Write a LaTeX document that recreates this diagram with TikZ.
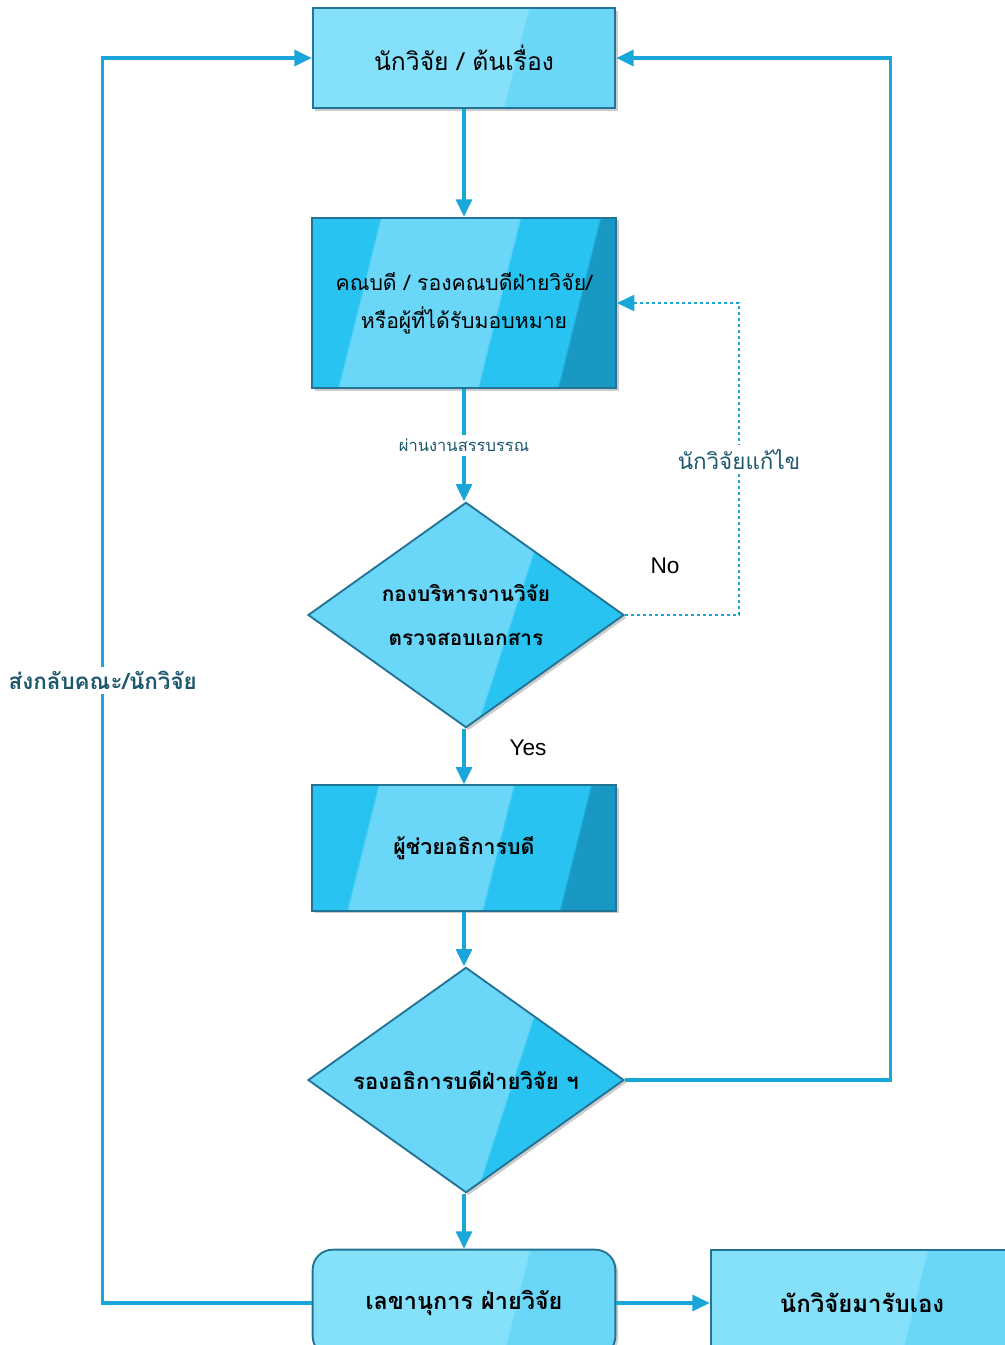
\documentclass[tikz,border=0pt]{standalone}
\usepackage{fontspec}
\setmainfont{Liberation Sans}
\newfontfamily\thaifont[Script=Thai]{Loma}
\usetikzlibrary{shapes.geometric,arrows.meta,shadows}

\definecolor{flowblue}{RGB}{27,166,218}
\definecolor{notecolor}{RGB}{30,88,110}
\definecolor{glassedge}{RGB}{34,115,148}
\definecolor{glasspale}{RGB}{133,224,250}
\definecolor{glasslight}{RGB}{106,215,249}
\definecolor{glassmid}{RGB}{40,195,241}
\definecolor{glassdark}{RGB}{26,152,196}

\pgfdeclarehorizontalshading{deepglass}{100bp}{color(0bp)=(glassmid); color(31.5bp)=(glassmid); color(31.8bp)=(glasslight); color(56bp)=(glasslight); color(56.3bp)=(glassmid); color(70bp)=(glassmid); color(70.3bp)=(glassdark); color(100bp)=(glassdark)}
\pgfdeclarehorizontalshading{paleglass}{100bp}{color(0bp)=(glasspale); color(59.5bp)=(glasspale); color(59.8bp)=(glasslight); color(100bp)=(glasslight)}
\pgfdeclarehorizontalshading{diamondglass}{100bp}{color(0bp)=(glasslight); color(57.5bp)=(glasslight); color(57.8bp)=(glassmid); color(100bp)=(glassmid)}

\tikzset{
  glass/.style={draw=glassedge, line width=1.4pt, align=center,
    drop shadow={shadow xshift=2pt, shadow yshift=-2pt, opacity=0.4}},
  palebox/.style={glass, rectangle, shading=paleglass, shading angle=-14,
    minimum width=227pt, font=\thaifont\fontsize{18.5}{30}\selectfont},
  deepbox/.style={glass, rectangle, shading=deepglass, shading angle=-14,
    minimum width=228pt, font=\thaifont\fontsize{15.9}{28.5}\selectfont},
  decision/.style={glass, diamond, aspect=1.4, inner sep=0pt,
    shading=diamondglass, shading angle=-18,
    minimum width=237pt, minimum height=169pt,
    font=\thaifont\bfseries\fontsize{15.6}{33}\selectfont},
  flow/.style={draw=flowblue, line width=2.3pt,
    -{Triangle[width=12pt,length=13pt]}},
  fixloop/.style={draw=flowblue, line width=1.9pt, dash pattern=on 2.5pt off 2pt,
    -{Triangle[width=12pt,length=13pt]}},
  note/.style={fill=white, text=notecolor, inner sep=3pt},
}

\begin{document}
\begin{tikzpicture}[x=0.75pt, y=-0.75pt]
    \useasboundingbox (0,0) rectangle (1005,1345);

    \node[palebox, minimum height=75pt] at (464,58)   (researcher) {นักวิจัย / ต้นเรื่อง};
    \node[deepbox, minimum height=128pt] at (464,303) (dean) {คณบดี / รองคณบดีฝ่ายวิจัย/\\หรือผู้ที่ได้รับมอบหมาย};
    \node[decision] at (466,615)                      (office) {กองบริหารงานวิจัย\\ตรวจสอบเอกสาร};
    \node[deepbox, minimum height=94pt,
          font=\thaifont\bfseries\fontsize{16}{30}\selectfont] at (464,848) (assistant) {ผู้ช่วยอธิการบดี};
    \node[decision, font=\thaifont\bfseries\fontsize{16.6}{33}\selectfont] at (466,1080) (vice) {รองอธิการบดีฝ่ายวิจัย ฯ};
    \node[palebox, rounded corners=15pt, minimum height=80pt,
          font=\thaifont\bfseries\fontsize{17.6}{30}\selectfont] at (464,1303) (secretary) {เลขานุการ ฝ่ายวิจัย};
    \node[palebox, minimum height=80pt,
          font=\thaifont\bfseries\fontsize{18}{30}\selectfont] at (862,1303) (pickup) {นักวิจัยมารับเอง};
    \node[font=\fontsize{17}{20}\selectfont] at (665,566) (no)  {No};
    \node[font=\fontsize{17}{20}\selectfont] at (528,748) (yes) {Yes};

    \draw[flow] (researcher) -- (dean);
    \draw[flow] (dean) -- node[note, font=\thaifont\fontsize{12.4}{14}\selectfont] {ผ่านงานสรรบรรณ} (dean |- office.north);
    \draw[fixloop] (office.east) -- ++(114,0) |- node[pos=0.25, note, font=\thaifont\fontsize{16.8}{18}\selectfont] {นักวิจัยแก้ไข} (dean.east);
    \draw[flow] (office.south -| assistant) -- (assistant);
    \draw[flow] (assistant) -- (assistant |- vice.north);
    \draw[flow] (vice.east) -- ++(266,0) |- (researcher.east);
    \draw[flow] (vice.south -| secretary) -- (secretary);
    \draw[flow] (secretary.west) -- ++(-209,0) |- node[pos=0.25, note, font=\thaifont\bfseries\fontsize{16.8}{18}\selectfont] {ส่งกลับคณะ/นักวิจัย} (researcher.west);
    \draw[flow] (secretary) -- (pickup);
\end{tikzpicture}
\end{document}
